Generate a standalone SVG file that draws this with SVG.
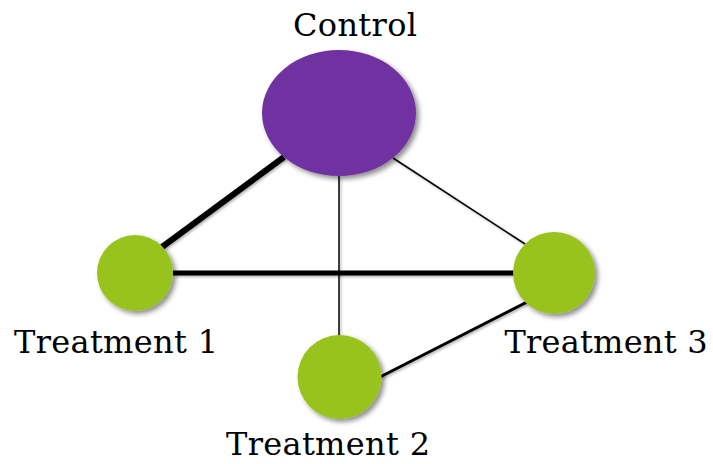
<svg xmlns="http://www.w3.org/2000/svg" width="713" height="464" viewBox="0 0 713 464">
<defs>
<filter id="sh" x="-20%" y="-20%" width="150%" height="150%">
<feDropShadow dx="3" dy="3" stdDeviation="2.5" flood-color="#000" flood-opacity="0.45"/>
</filter>
<filter id="lsh" filterUnits="userSpaceOnUse" x="0" y="0" width="713" height="464">
<feDropShadow dx="1.5" dy="1.5" stdDeviation="1.2" flood-color="#000" flood-opacity="0.3"/>
</filter>
</defs>
<style>
.lbl{font-family:"DejaVu Serif","Liberation Serif",serif;font-size:32px;fill:#000;text-anchor:middle}
.trt{fill:#97C31F;filter:url(#sh)}
.ctl{fill:#7030A0;filter:url(#sh)}
.edge{stroke:#000;fill:none;filter:url(#lsh)}
</style>
<rect width="713" height="464" fill="#fff"/>
<g id="connectors">
<line class="edge" x1="162" y1="247" x2="284" y2="157" stroke-width="6"/>
<line class="edge" x1="173" y1="273" x2="514" y2="273" stroke-width="5"/>
<line class="edge" x1="393" y1="158" x2="525" y2="244" stroke-width="1.5"/>
<line class="edge" x1="339" y1="176" x2="339" y2="336" stroke-width="1.5"/>
<line class="edge" x1="380" y1="377" x2="527" y2="302" stroke-width="3"/>
</g>
<g id="control">
<ellipse class="ctl" cx="339" cy="113" rx="77" ry="63"/>
<text class="lbl" x="355" y="36" textLength="124">Control</text>
</g>
<g id="treatment1">
<circle class="trt" cx="135" cy="273" r="38"/>
<text class="lbl" x="116" y="353" textLength="204">Treatment 1</text>
</g>
<g id="treatment3">
<circle class="trt" cx="554" cy="273" r="41"/>
<text class="lbl" x="606" y="353" textLength="203">Treatment 3</text>
</g>
<g id="treatment2">
<circle class="trt" cx="339.5" cy="377" r="42"/>
<text class="lbl" x="328" y="455" textLength="204">Treatment 2</text>
</g>
</svg>
